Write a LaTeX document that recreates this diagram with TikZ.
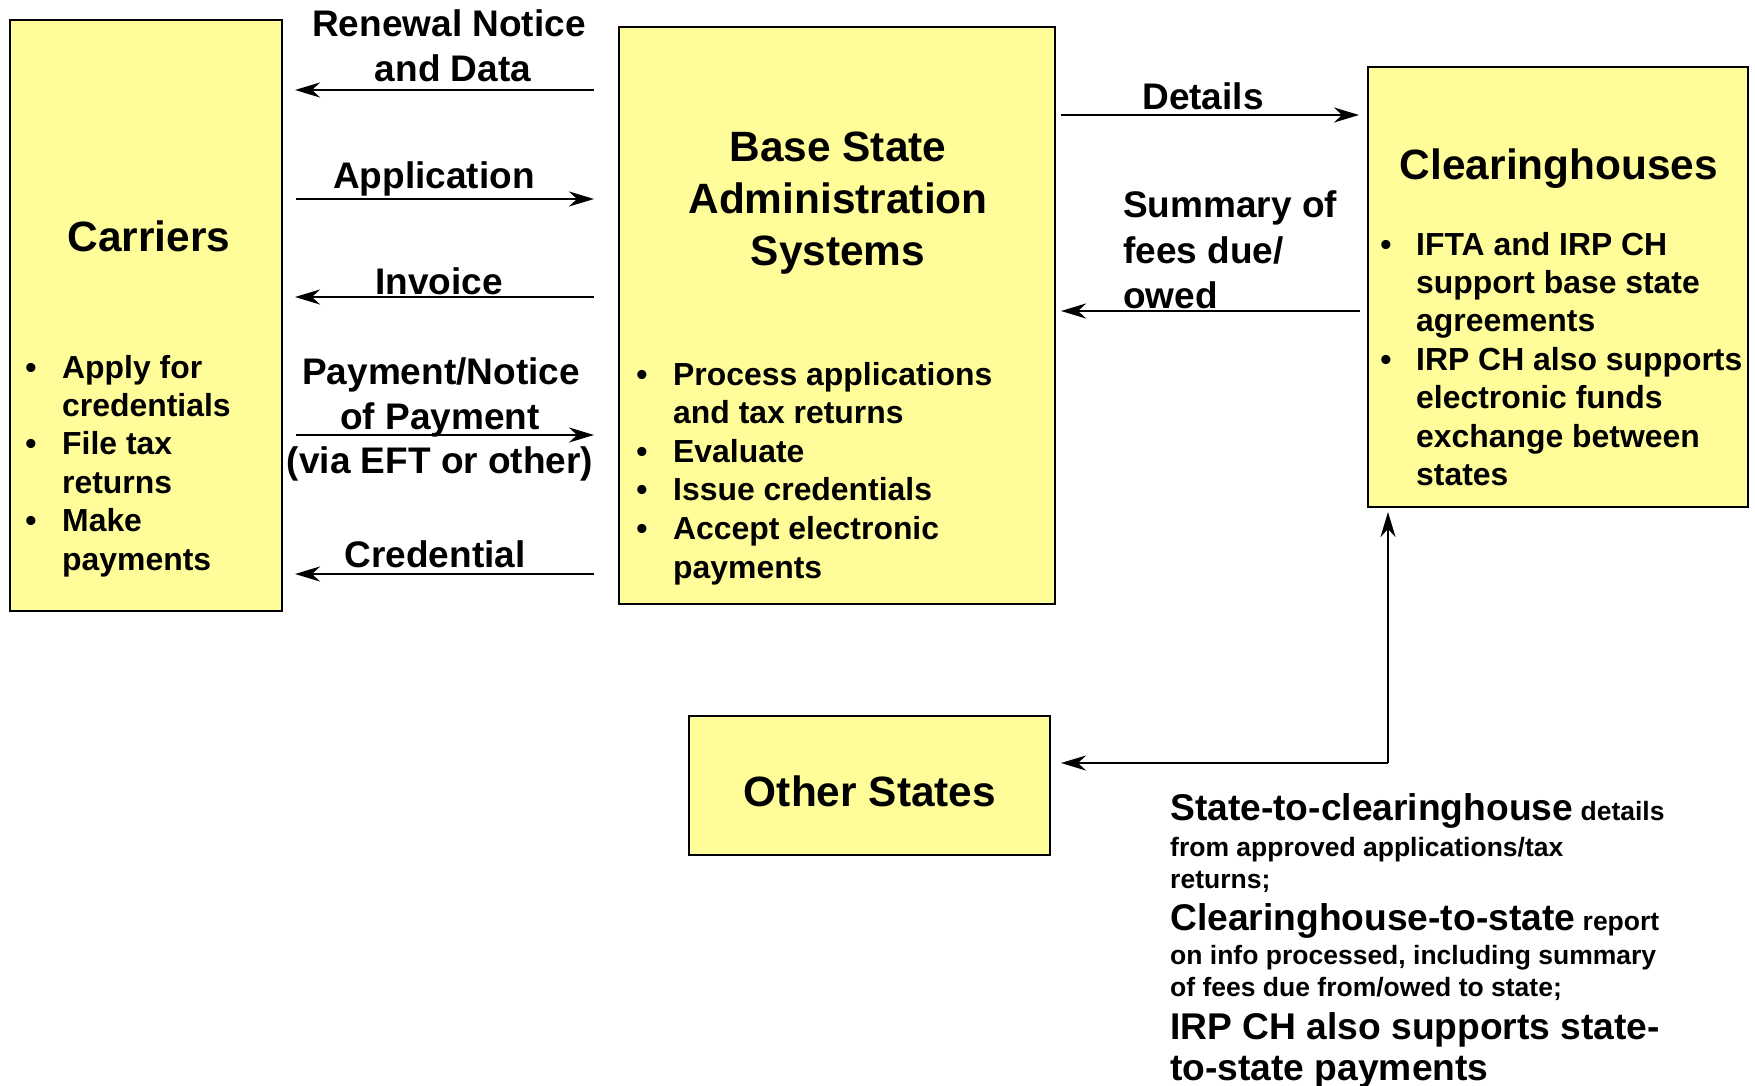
\documentclass[tikz,border=0pt]{standalone}
\usepackage{fontspec}
\setmainfont{Liberation Sans}
\usetikzlibrary{arrows.meta}
\definecolor{boxfill}{RGB}{255,253,153}
\newcommand\bignotefont{\fontsize{37.2}{40}\selectfont\bfseries}
\begin{document}
\begin{tikzpicture}[x=1pt,y=-1pt,
  box/.style={draw=black, line width=2.8pt, fill=boxfill, inner sep=0pt},
  title/.style={font=\fontsize{42.4}{50}\selectfont\bfseries, anchor=base, inner sep=0pt},
  lab/.style={font=\fontsize{37}{44}\selectfont\bfseries, anchor=base, inner sep=0pt},
  labl/.style={font=\fontsize{37}{44}\selectfont\bfseries, anchor=base west, inner sep=0pt},
  btxt/.style={font=\fontsize{31.9}{38}\selectfont\bfseries, anchor=base west, inner sep=0pt},
  bul/.style={font=\fontsize{31.9}{38}\selectfont\bfseries, anchor=base, inner sep=0pt},
  arr/.style={line width=2.6pt, -{Stealth[length=25pt,width=15pt,inset=8pt]}},
  note/.style={font=\fontsize{26.5}{30}\selectfont\bfseries, anchor=base west, inner sep=0pt}
]
\useasboundingbox (0,0) rectangle (1755,1086);
\fill[white] (0,0) rectangle (1755,1086);

% boxes
\node[box, minimum width=272pt, minimum height=591pt] (car) at (146,315.5) {};
\node[box, minimum width=436pt, minimum height=577pt] (bs) at (837,315.5) {};
\node[box, minimum width=380pt, minimum height=440pt] (ch) at (1558,287) {};
\node[box, minimum width=361pt, minimum height=139pt] (os) at (869.5,785.5) {};

% titles
\node[title] (cart) at (149,251) {Carriers};
\foreach [count=\i] \t in {Base State, Administration, Systems}
  \node[title] (bst\i) at (838,{162+51.5*(\i-1)}) {\t};
\node[title] (cht) at (1559,180) {Clearinghouses};
\node[title] (ost) at (870,806) {Other States};

% carriers bullets
\foreach [count=\i] \t in {Apply for, credentials, File tax, returns, Make, payments}
  \node[btxt] (cl\i) at (62,{378+38.4*(\i-1)}) {\t};
\foreach [count=\i] \y in {378,454.8,531.6}
  \node[bul] (cb\i) at (31,\y) {•};

% base state bullets
\foreach [count=\i] \t in {Process applications, and tax returns, Evaluate, Issue credentials, Accept electronic, payments}
  \node[btxt] (bl\i) at (673,{385+38.6*(\i-1)}) {\t};
\foreach [count=\i] \y in {385,462.2,500.8,539.4}
  \node[bul] (bb\i) at (642,\y) {•};

% clearinghouse bullets
\foreach [count=\i] \t in {IFTA and IRP CH, support base state, agreements, IRP CH also supports, electronic funds, exchange between, states}
  \node[btxt] (hl\i) at (1416,{255+38.4*(\i-1)}) {\t};
\foreach [count=\i] \y in {255,370.2}
  \node[bul] (hb\i) at (1386,\y) {•};

% labels left
\node[lab] (l1a) at (449,37) {Renewal Notice};
\node[lab] (l1b) at (453,82) {and Data};
\node[lab] (l2) at (434,189) {Application};
\node[lab] (l3) at (439,294) {Invoice};
\node[lab] (l4a) at (441,384) {Payment/Notice};
\node[lab] (l4b) at (440,429) {of Payment};
\node[lab] (l4c) at (440,473) {(via EFT or other)};
\node[lab] (l5) at (435,567) {Credential};
% labels right
\node[lab] (r1) at (1203,110) {Details};
\node[labl] (r2a) at (1123,218) {Summary of};
\node[labl] (r2b) at (1123,263) {fees due/};
\node[labl] (r2c) at (1123,308) {owed};

% connector end points
\coordinate (a1s) at (594,90);  \coordinate (a1e) at (295,90);
\coordinate (a2s) at (296,199); \coordinate (a2e) at (594,199);
\coordinate (a3s) at (594,297); \coordinate (a3e) at (295,297);
\coordinate (a4s) at (296,435); \coordinate (a4e) at (594,435);
\coordinate (a5s) at (594,574); \coordinate (a5e) at (295,574);
\coordinate (b1s) at (1061,115); \coordinate (b1e) at (1359,115);
\coordinate (b2s) at (1360,311); \coordinate (b2e) at (1061,311);
\coordinate (vc) at (1388,763);
\coordinate (vtop) at (1388,512);
\coordinate (vleft) at (1061,763);

\draw[arr] (a1s) -- (a1e);
\draw[arr] (a2s) -- (a2e);
\draw[arr] (a3s) -- (a3e);
\draw[arr] (a4s) -- (a4e);
\draw[arr] (a5s) -- (a5e);
\draw[arr] (b1s) -- (b1e);
\draw[arr] (b2s) -- (b2e);
\draw[arr] (vc) -- (vtop);
\draw[arr] (vc) -- (vleft);

% bottom notes
\node[note] (n1) at (1170,820) {{\bignotefont State-to-clearinghouse} details};
\node[note] (n2) at (1170,856) {from approved applications/tax};
\node[note] (n3) at (1170,888) {returns;};
\node[note] (n4) at (1170,930) {{\bignotefont Clearinghouse-to-state} report};
\node[note] (n5) at (1170,964) {on info processed, including summary};
\node[note] (n6) at (1170,996) {of fees due from/owed to state;};
\node[note] (n7) at (1170,1039) {\bignotefont IRP CH also supports state-};
\node[note] (n8) at (1170,1080) {\bignotefont to-state payments};
\end{tikzpicture}
\end{document}
